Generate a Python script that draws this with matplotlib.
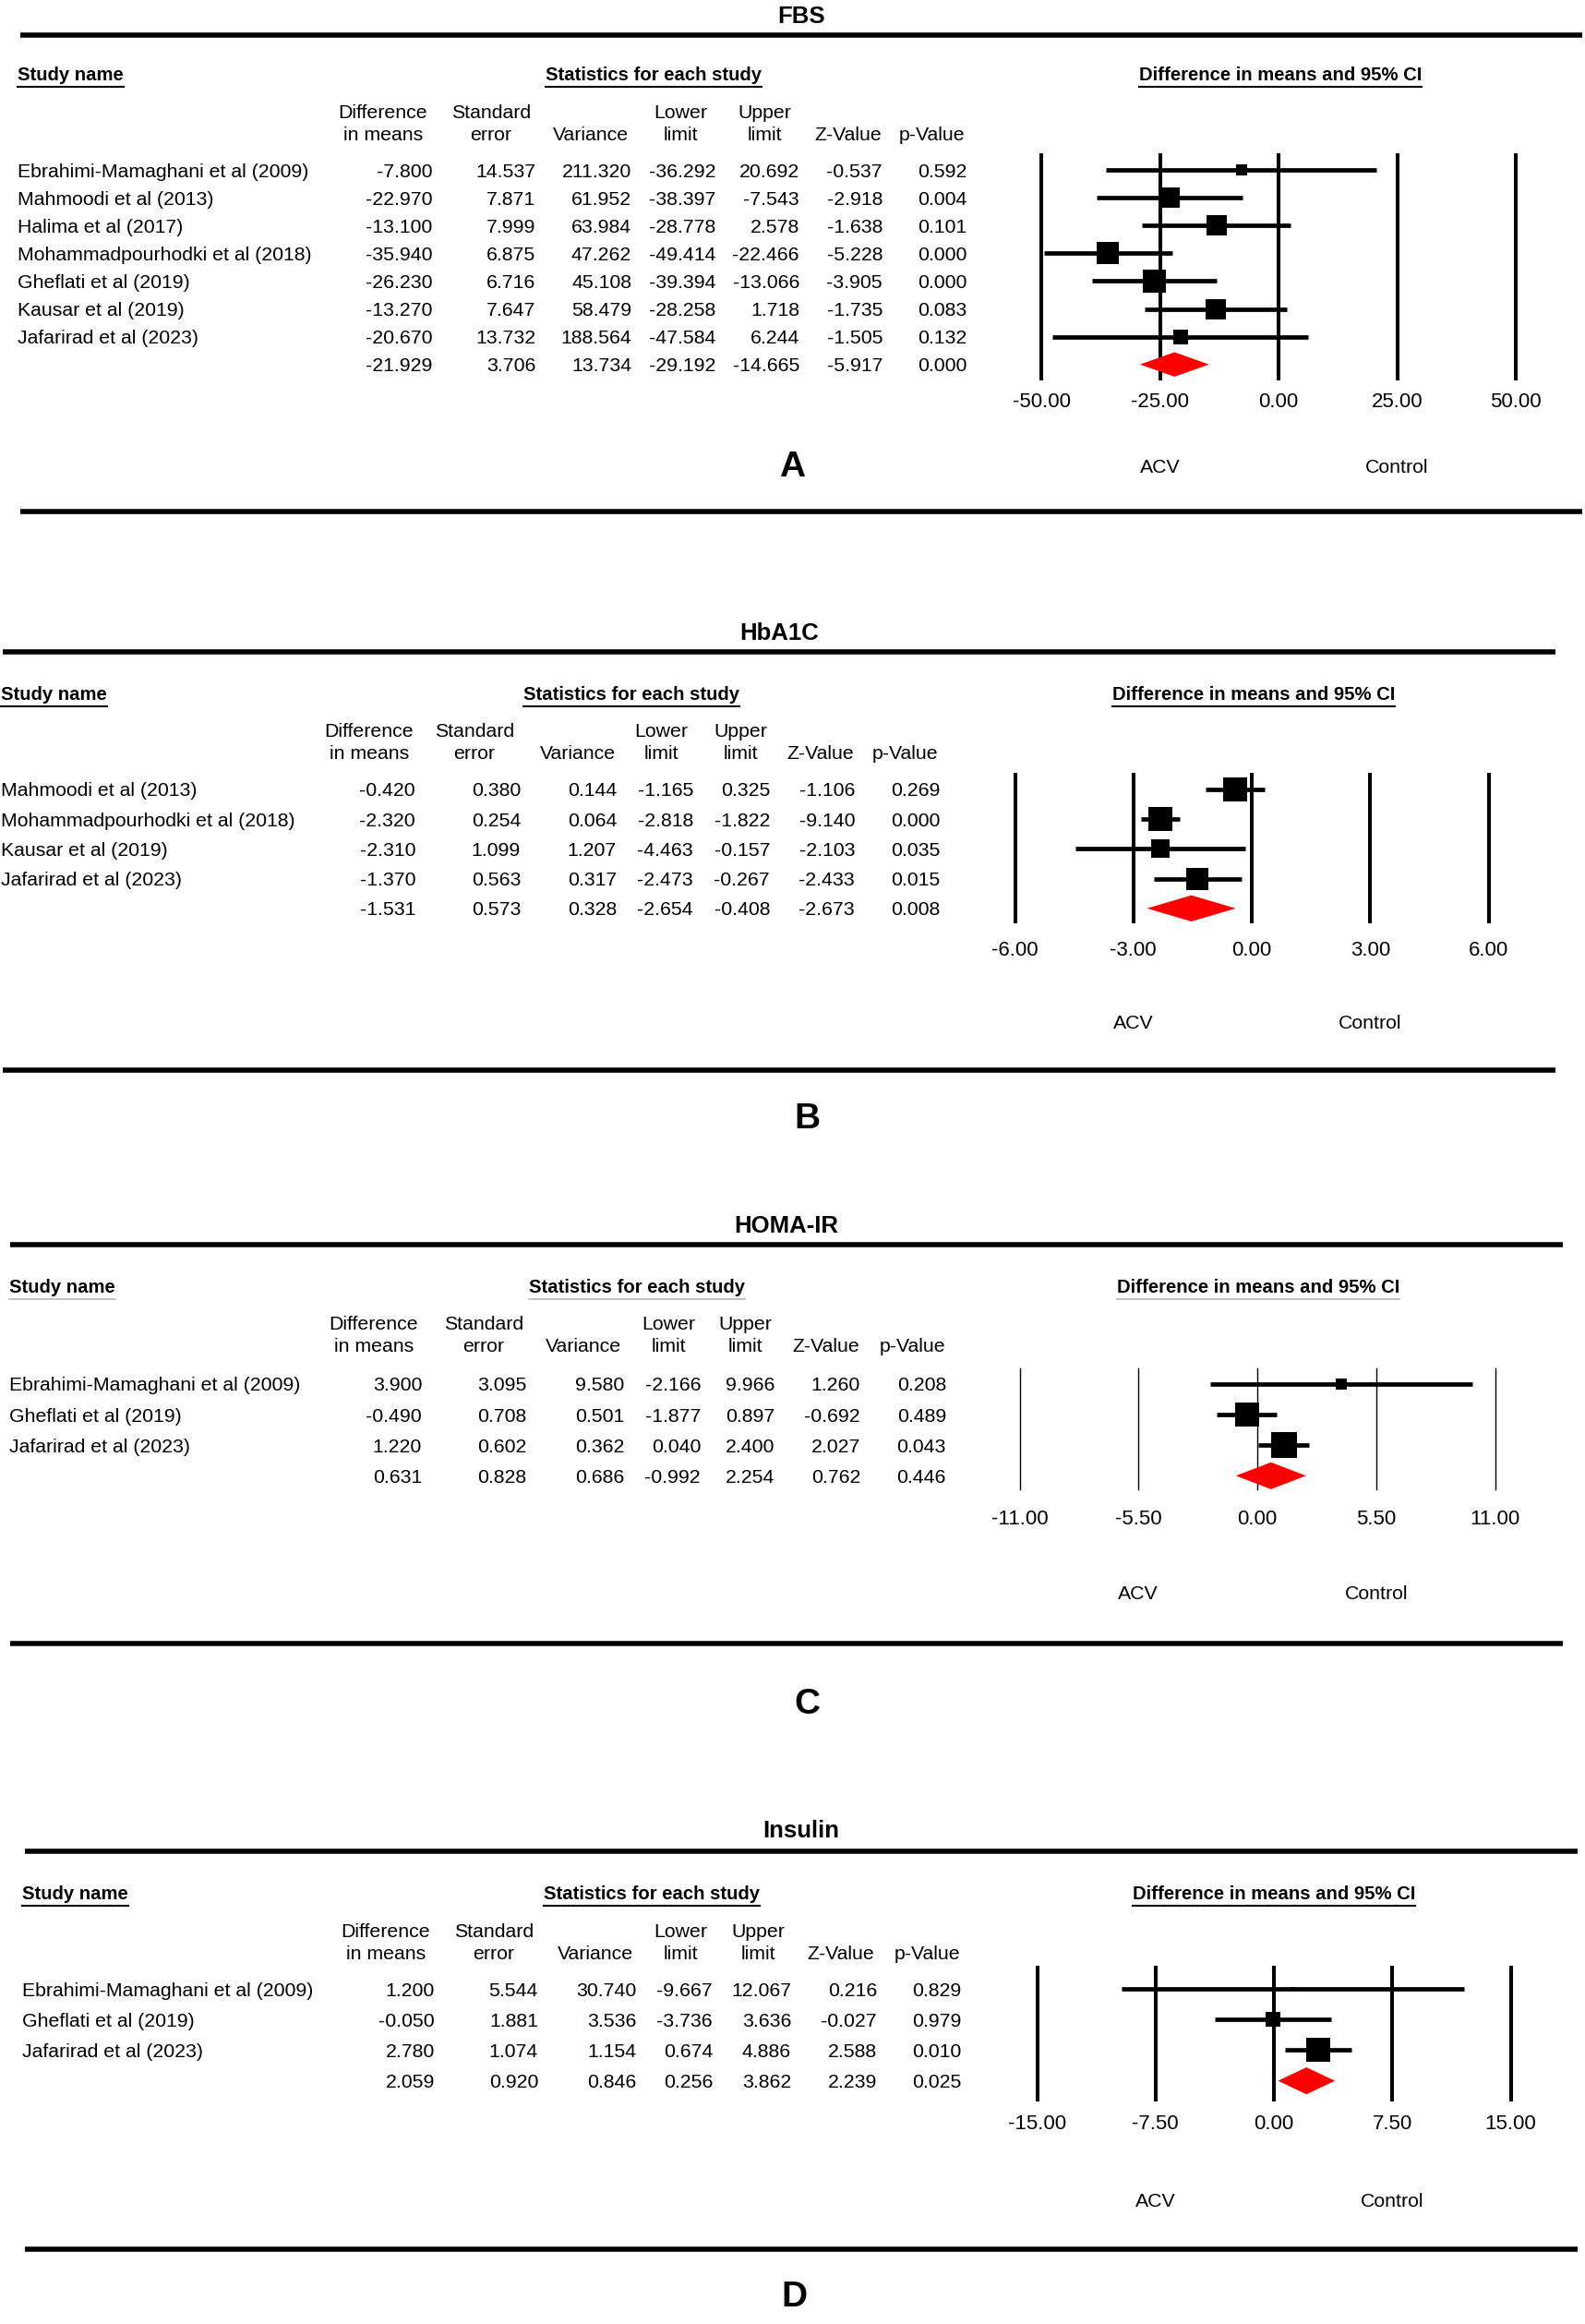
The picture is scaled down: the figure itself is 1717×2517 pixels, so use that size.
import matplotlib
matplotlib.use("Agg")
import matplotlib.pyplot as plt
from matplotlib.lines import Line2D

plt.rcParams['font.family'] = ['Liberation Sans', 'DejaVu Sans']

W, H = 1717, 2517

# ---------------- data ----------------
# FBS
fbs_names = ["Ebrahimi-Mamaghani et al (2009)", "Mahmoodi et al (2013)", "Halima et al (2017)",
             "Mohammadpourhodki et al (2018)", "Gheflati et al (2019)", "Kausar et al (2019)",
             "Jafarirad et al (2023)"]
fbs_diff = [-7.800, -22.970, -13.100, -35.940, -26.230, -13.270, -20.670]
fbs_se = [14.537, 7.871, 7.999, 6.875, 6.716, 7.647, 13.732]
fbs_var = [211.320, 61.952, 63.984, 47.262, 45.108, 58.479, 188.564]
fbs_lower = [-36.292, -38.397, -28.778, -49.414, -39.394, -28.258, -47.584]
fbs_upper = [20.692, -7.543, 2.578, -22.466, -13.066, 1.718, 6.244]
fbs_z = [-0.537, -2.918, -1.638, -5.228, -3.905, -1.735, -1.505]
fbs_p = [0.592, 0.004, 0.101, 0.000, 0.000, 0.083, 0.132]
fbs_weight = [5.5, 15.9, 15.9, 18.9, 20.5, 15.9, 7.4]
fbs_pooled = [-21.929, 3.706, 13.734, -29.192, -14.665, -5.917, 0.000]

# HbA1C
hba_names = ["Mahmoodi et al (2013)", "Mohammadpourhodki et al (2018)", "Kausar et al (2019)",
             "Jafarirad et al (2023)"]
hba_diff = [-0.420, -2.320, -2.310, -1.370]
hba_se = [0.380, 0.254, 1.099, 0.563]
hba_var = [0.144, 0.064, 1.207, 0.317]
hba_lower = [-1.165, -2.818, -4.463, -2.473]
hba_upper = [0.325, -1.822, -0.157, -0.267]
hba_z = [-1.106, -9.140, -2.103, -2.433]
hba_p = [0.269, 0.000, 0.035, 0.015]
hba_weight = [27.9, 32.5, 16.1, 23.6]
hba_pooled = [-1.531, 0.573, 0.328, -2.654, -0.408, -2.673, 0.008]

# HOMA-IR
homa_names = ["Ebrahimi-Mamaghani et al (2009)", "Gheflati et al (2019)", "Jafarirad et al (2023)"]
homa_diff = [3.900, -0.490, 1.220]
homa_se = [3.095, 0.708, 0.602]
homa_var = [9.580, 0.501, 0.362]
homa_lower = [-2.166, -1.877, 0.040]
homa_upper = [9.966, 0.897, 2.400]
homa_z = [1.260, -0.692, 2.027]
homa_p = [0.208, 0.489, 0.043]
homa_weight = [7.7, 42.8, 49.6]
homa_pooled = [0.631, 0.828, 0.686, -0.992, 2.254, 0.762, 0.446]

# Insulin
ins_names = ["Ebrahimi-Mamaghani et al (2009)", "Gheflati et al (2019)", "Jafarirad et al (2023)"]
ins_diff = [1.200, -0.050, 2.780]
ins_se = [5.544, 1.881, 1.074]
ins_var = [30.740, 3.536, 1.154]
ins_lower = [-9.667, -3.736, 0.674]
ins_upper = [12.067, 3.636, 4.886]
ins_z = [0.216, -0.027, 2.588]
ins_p = [0.829, 0.979, 0.010]
ins_weight = [1.6, 25.6, 72.8]
ins_pooled = [2.059, 0.920, 0.846, 0.256, 3.862, 2.239, 0.025]

ticks_fbs = [-50, -25, 0, 25, 50]
ticks_hba = [-6, -3, 0, 3, 6]
ticks_homa = [-11, -5.5, 0, 5.5, 11]
ticks_ins = [-15, -7.5, 0, 7.5, 15]

hdr_top = ["Difference", "Standard", "", "Lower", "Upper", "", ""]
hdr_bot = ["in means", "error", "Variance", "limit", "limit", "Z-Value", "p-Value"]

panels = [
    dict(title="FBS", letter="A", names=fbs_names,
         cols=[fbs_diff, fbs_se, fbs_var, fbs_lower, fbs_upper, fbs_z, fbs_p],
         weight=fbs_weight, pooled=fbs_pooled, ticks=ticks_fbs,
         title_xy=(865, 16), line_x=(19, 1711), top_y=38, bot_y=554, letter_xy=(855, 506),
         head_y=80, study_x=16, stats_cx=705, ci_cx=1384, hdr_y=(120, 145),
         col_r=[465, 577, 681, 772, 863, 953, 1044], hdr_cx=[412, 529, 637, 734, 825, 916, 1006],
         y0=184, dy=30.1, grid=(168, 410), zero=1382, half=257, tick_y=433, acv_y=504,
         glw=2.9, ulc="black", maxbox=25),
    dict(title="HbA1C", letter="B", names=hba_names,
         cols=[hba_diff, hba_se, hba_var, hba_lower, hba_upper, hba_z, hba_p],
         weight=hba_weight, pooled=hba_pooled, ticks=ticks_hba,
         title_xy=(841, 684), line_x=(0, 1682), top_y=706, bot_y=1159, letter_xy=(871, 1212),
         head_y=751, study_x=-2, stats_cx=681, ci_cx=1355, hdr_y=(791, 815),
         col_r=[447, 561, 665, 748, 831, 923, 1015], hdr_cx=[397, 511, 623, 713, 799, 886, 977],
         y0=855, dy=32.2, grid=(839, 998), zero=1353, half=256.5, tick_y=1027, acv_y=1106,
         glw=2.9, ulc="black", maxbox=27),
    dict(title="HOMA-IR", letter="C", names=homa_names,
         cols=[homa_diff, homa_se, homa_var, homa_lower, homa_upper, homa_z, homa_p],
         weight=homa_weight, pooled=homa_pooled, ticks=ticks_homa,
         title_xy=(849, 1326), line_x=(8, 1690), top_y=1348, bot_y=1780, letter_xy=(871, 1846),
         head_y=1393, study_x=7, stats_cx=687, ci_cx=1360, hdr_y=(1433, 1457),
         col_r=[454, 567, 673, 756, 836, 929, 1022], hdr_cx=[402, 521, 629, 721, 804, 892, 985],
         y0=1499, dy=33.1, grid=(1482, 1613), zero=1359, half=257.5, tick_y=1643, acv_y=1725,
         glw=1.0, ulc="#b8b8b8", maxbox=28),
    dict(title="Insulin", letter="D", names=ins_names,
         cols=[ins_diff, ins_se, ins_var, ins_lower, ins_upper, ins_z, ins_p],
         weight=ins_weight, pooled=ins_pooled, ticks=ticks_ins,
         title_xy=(865, 1981), line_x=(24, 1706), top_y=2005, bot_y=2436, letter_xy=(857, 2488),
         head_y=2050, study_x=21, stats_cx=703, ci_cx=1377, hdr_y=(2090, 2115),
         col_r=[468, 580, 686, 769, 854, 947, 1038], hdr_cx=[415, 532, 642, 734, 818, 908, 1001],
         y0=2154, dy=33.2, grid=(2131, 2274), zero=1377, half=256.5, tick_y=2298, acv_y=2382,
         glw=2.9, ulc="black", maxbox=27),
]

FS = 15.3
BFS = 14.6
OFF = 7.5    # half cap height in px, for baseline placement
XSHIFT = 3   # small overall shift to the right, px

fig = plt.figure(figsize=(W / 100, H / 100), dpi=100)


def fx(x):
    return (x + XSHIFT) / W


def fy(y):
    return 1 - y / H


def txt(x, y, s, ha="left", size=FS, weight="normal"):
    return fig.text(fx(x), fy(y + OFF * size / FS), s, ha=ha, va="baseline",
                    fontsize=size, fontweight=weight)


def hline(x0, x1, y, lw, color="black"):
    fig.add_artist(Line2D([fx(x0), fx(x1)], [fy(y), fy(y)], transform=fig.transFigure,
                          color=color, lw=lw, solid_capstyle="butt"))


heads = []
for P in panels:
    n = len(P["names"])
    txt(P["title_xy"][0], P["title_xy"][1], P["title"], ha="center", size=18.5, weight="bold")
    fig.text(fx(P["letter_xy"][0]), fy(P["letter_xy"][1]), P["letter"], ha="center", va="center",
             fontsize=28, fontweight="bold")
    hline(P["line_x"][0], P["line_x"][1], P["top_y"], 4)
    hline(P["line_x"][0], P["line_x"][1], P["bot_y"], 4)

    for s, x, ha in [("Study name", P["study_x"], "left"),
                     ("Statistics for each study", P["stats_cx"], "center"),
                     ("Difference in means and 95% CI", P["ci_cx"], "center")]:
        t = txt(x, P["head_y"], s, ha=ha, size=BFS, weight="bold")
        heads.append((t, P["head_y"], P["ulc"]))

    for j in range(7):
        if hdr_top[j]:
            txt(P["hdr_cx"][j], P["hdr_y"][0], hdr_top[j], ha="center")
        txt(P["hdr_cx"][j], P["hdr_y"][1], hdr_bot[j], ha="center")

    for i in range(n):
        y = P["y0"] + i * P["dy"]
        txt(P["study_x"], y, P["names"][i])
        for j, col in enumerate(P["cols"]):
            txt(P["col_r"][j], y, "%.3f" % col[i], ha="right")
    ysum = P["y0"] + n * P["dy"]
    for j, v in enumerate(P["pooled"]):
        txt(P["col_r"][j], ysum, "%.3f" % v, ha="right")

    # forest plot axes
    lim = P["ticks"][-1]
    left = P["zero"] - P["half"]
    right = P["zero"] + P["half"]
    gt, gb = P["grid"]
    ax = fig.add_axes([fx(left), fy(gb), (right - left) / W, (gb - gt) / H])
    ax.set_xlim(-lim, lim)
    ax.set_ylim((gb - P["y0"]) / P["dy"], (gt - P["y0"]) / P["dy"])
    ax.patch.set_visible(False)
    for sp in ax.spines.values():
        sp.set_visible(False)
    ax.set_yticks([])
    ax.set_xticks(P["ticks"])
    ax.set_xticklabels(["%.2f" % t for t in P["ticks"]], fontsize=FS + 0.7)
    pad = (P["tick_y"] - gb - 8) * 72 / 100
    ax.tick_params(axis="x", length=0, pad=pad)
    for t in P["ticks"]:
        ax.axvline(t, color="black", lw=P["glw"], clip_on=False)

    wmax = max(P["weight"])
    for i in range(n):
        ax.plot([P["cols"][3][i], P["cols"][4][i]], [i, i], color="black", lw=3.4,
                solid_capstyle="butt", zorder=3)
        side = P["maxbox"] * (P["weight"][i] / wmax) ** 0.5
        ax.plot(P["cols"][0][i], i, marker="s", ms=side * 0.72, color="black", mew=0, zorder=4)
    est, lo, hi = P["pooled"][0], P["pooled"][3], P["pooled"][4]
    hh = 0.44
    ax.fill([lo, est, hi, est], [n, n - hh, n, n + hh], color="#ff0000", lw=0, zorder=4)

    txt(P["zero"] - P["half"] / 2, P["acv_y"], "ACV", ha="center")
    txt(P["zero"] + P["half"] / 2, P["acv_y"], "Control", ha="center")

fig.canvas.draw()
r = fig.canvas.get_renderer()
for t, y, c in heads:
    bb = t.get_window_extent(r)
    yy = y + 14
    fig.add_artist(Line2D([bb.x0 / W, bb.x1 / W], [fy(yy), fy(yy)], transform=fig.transFigure,
                          color=c, lw=1.5 if c == "black" else 1.2))

fig.savefig("out.png", dpi=100)
